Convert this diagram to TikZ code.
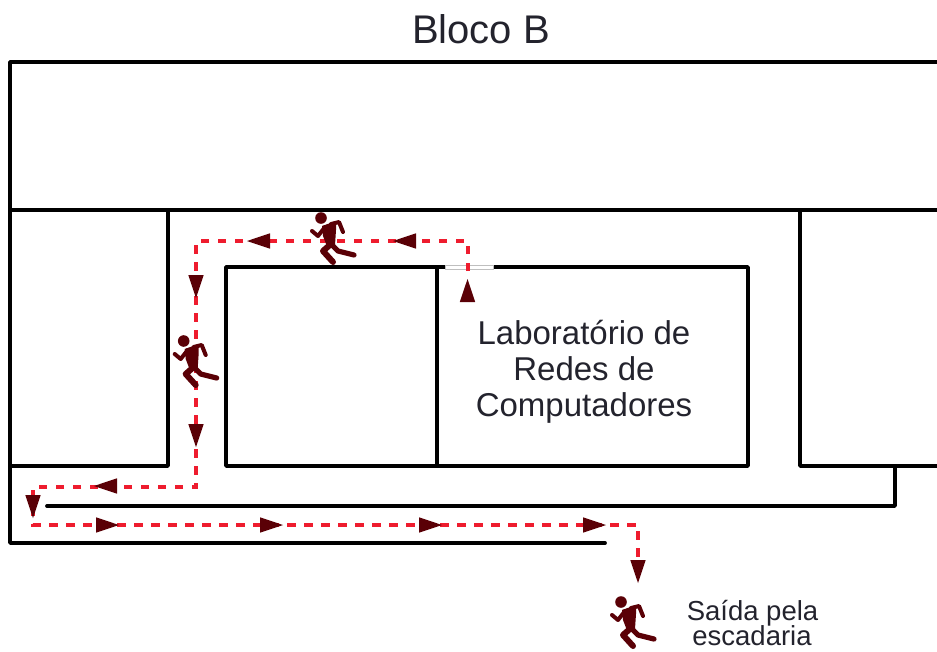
\documentclass[tikz,border=0pt]{standalone}
\usepackage{fontspec}
\setmainfont{Liberation Sans}
\definecolor{wallc}{HTML}{000000}
\definecolor{routec}{HTML}{EE1C2E}
\definecolor{darkc}{HTML}{5A0006}
\definecolor{textc}{HTML}{23232D}
\tikzset{
  wall/.style={draw=wallc,line width=3.8pt,line cap=round,line join=round},
  route/.style={draw=routec,line width=4pt,dash pattern=on 8.5pt off 8.5pt},
  titletext/.style={text=textc,font=\fontsize{40}{40}\selectfont,anchor=base,inner sep=0pt},
  labtext/.style={text=textc,font=\fontsize{33}{33}\selectfont,anchor=base,inner sep=0pt},
  captext/.style={text=textc,font=\fontsize{27.5}{27.5}\selectfont,anchor=base,inner sep=0pt},
  tri/.pic={\fill[darkc] (0,0) -- (-23,-7.7) -- (-23,7.7) -- cycle;},
  runner/.pic={
    \fill[darkc] (0,0) circle (5.8);
    \begin{scope}[darkc,line cap=round,line join=round]
    \fill (1,8) -- (15,3) -- (15,12) -- (14,27) -- (7,31) -- (2,18) -- cycle;
    \draw[line width=4pt] (4,9) -- (-3,18) -- (-9,13);
    \draw[line width=4pt] (10,6) -- (18,4) -- (22,14);
    \draw[line width=6pt] (10,26) -- (2,33) -- (12,44);
    \draw[line width=5.2pt] (10,26) -- (17,33) -- (33,37);
    \end{scope}
  }
}
\begin{document}
\begin{tikzpicture}[x=1pt,y=-1pt]
\useasboundingbox (0,0) rectangle (937,651);
% walls
\draw[wall] (937,62) -- (10,62) -- (10,543) -- (605,543);
\draw[wall] (10,210) -- (937,210);
\draw[wall] (168,210) -- (168,466) -- (10,466);
\draw[wall] (226,267) rectangle (748,466);
\draw[wall] (437,267) -- (437,466);
\draw[wall] (937,466) -- (800,466) -- (800,210);
\draw[wall] (895,466) -- (895,506) -- (47,506);
% door
\fill[white,draw=black!25,line width=0.6pt] (445,265) rectangle (493,269);
% route
\coordinate (r0) at (468,271);
\coordinate (r1) at (468,241);
\coordinate (r2) at (196,241);
\coordinate (r3) at (196,487);
\coordinate (r4) at (33,487);
\coordinate (r5) at (33,525);
\coordinate (r6) at (638,525);
\coordinate (r7) at (638,562);
\draw[route] (r0) -- (r1) -- (r2) -- (r3) -- (r4) -- (r5) -- (r6) -- (r7);
% arrowheads
\pic[rotate=90] at (467.5,279) {tri};
\pic[xscale=-1] at (393,241) {tri};
\pic[xscale=-1] at (247,241) {tri};
\pic[rotate=-90] at (196,298) {tri};
\pic[rotate=-90] at (196,447) {tri};
\pic[xscale=-1] at (94,486) {tri};
\pic[rotate=-90] at (33,518) {tri};
\pic at (119,525) {tri};
\pic at (283,525) {tri};
\pic at (442,525) {tri};
\pic at (606,525) {tri};
\pic[rotate=-90] at (638,583) {tri};
% runners
\pic at (321,218) {runner};
\pic at (183.7,341) {runner};
\pic at (621,602) {runner};
% text
\node[titletext] (t) at (481,43) {Bloco B};
\node[labtext] (l1) at (584,344) {Laboratório de};
\node[labtext] (l2) at (584,380) {Redes de};
\node[labtext] (l3) at (584,416) {Computadores};
\node[captext] (c1) at (752.5,620) {Saída pela};
\node[captext] (c2) at (752,645) {escadaria};
\end{tikzpicture}
\end{document}
